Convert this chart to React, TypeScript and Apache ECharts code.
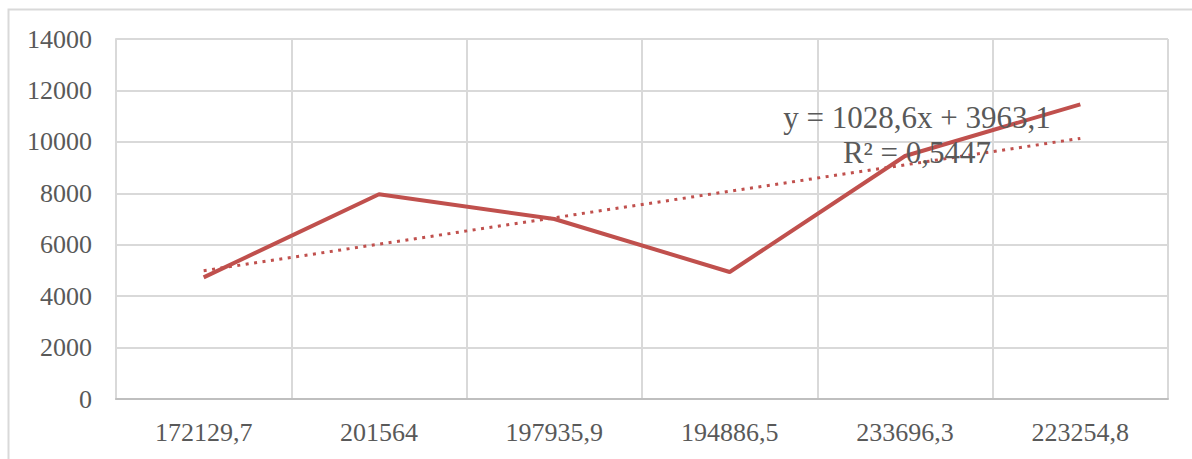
import React, { useEffect, useRef } from "react";
import * as echarts from "echarts";

const categories = ["172129,7", "201564", "197935,9", "194886,5", "233696,3", "223254,8"];
const values = [4730, 7960, 7000, 4940, 9450, 11460];
// trendline endpoints (Excel linear trendline y = 1028,6x + 3963,1 at first and last category)
const trendValues: (number | null)[] = [4991.7, null, null, null, null, 10134.7];
const equationLines = ["y = 1028,6x + 3963,1", "R² = 0,5447"];
const yTicks = { min: 0, max: 14000, interval: 2000 };

const FONT = '"Liberation Serif", "Times New Roman", serif';
const TEXT = "#595959";
const RED = "#C0504D";

export default function App() {
  const ref = useRef<HTMLDivElement>(null);
  useEffect(() => {
    const chart = echarts.init(ref.current!, undefined, { renderer: "svg" });
    chart.setOption({
      animation: false,
      backgroundColor: "#ffffff",
      grid: { left: 116, right: 24, top: 39, bottom: 60, containLabel: false },
      xAxis: {
        type: "category",
        data: categories,
        boundaryGap: true,
        axisLine: { show: true, lineStyle: { color: "#BFBFBF", width: 2 } },
        axisTick: { show: false },
        axisLabel: { color: TEXT, fontFamily: FONT, fontSize: 26, margin: 20 },
        splitLine: { show: true, interval: 0, lineStyle: { color: "#D9D9D9", width: 2 } },
      },
      yAxis: {
        type: "value",
        min: yTicks.min,
        max: yTicks.max,
        interval: yTicks.interval,
        axisLine: { show: true, lineStyle: { color: "#D9D9D9", width: 2 } },
        axisTick: { show: false },
        axisLabel: {
          color: TEXT,
          fontFamily: FONT,
          fontSize: 26,
          margin: 24,
          formatter: (v: number) => String(v),
        },
        splitLine: { show: true, lineStyle: { color: "#D9D9D9", width: 2 } },
      },
      series: [
        {
          type: "line",
          data: values,
          symbol: "none",
          lineStyle: { color: RED, width: 4 },
          z: 3,
        },
        {
          type: "line",
          data: trendValues,
          connectNulls: true,
          symbol: "none",
          lineStyle: { color: RED, width: 3, type: [3, 5.5] },
          z: 2,
        },
      ],
      graphic: [
        {
          type: "rect",
          shape: { x: 8.5, y: 9.5, width: 1200, height: 500 },
          style: { fill: "none", stroke: "#D9D9D9", lineWidth: 2 },
          silent: true,
          z: -10,
        },
        {
          type: "text",
          x: 917,
          y: 133,
          style: {
            text: equationLines[0],
            fill: TEXT,
            font: `31px ${FONT}`,
            textAlign: "center",
            textVerticalAlign: "bottom",
          },
          z: 10,
        },
        {
          type: "text",
          x: 917,
          y: 168,
          style: {
            text: equationLines[1],
            fill: TEXT,
            font: `31px ${FONT}`,
            textAlign: "center",
            textVerticalAlign: "bottom",
          },
          z: 10,
        },
      ],
    });
    return () => chart.dispose();
  }, []);
  return (
    <div
      ref={ref}
      style={{ position: "absolute", left: 0, top: 0, width: 1192, height: 459 }}
    />
  );
}
